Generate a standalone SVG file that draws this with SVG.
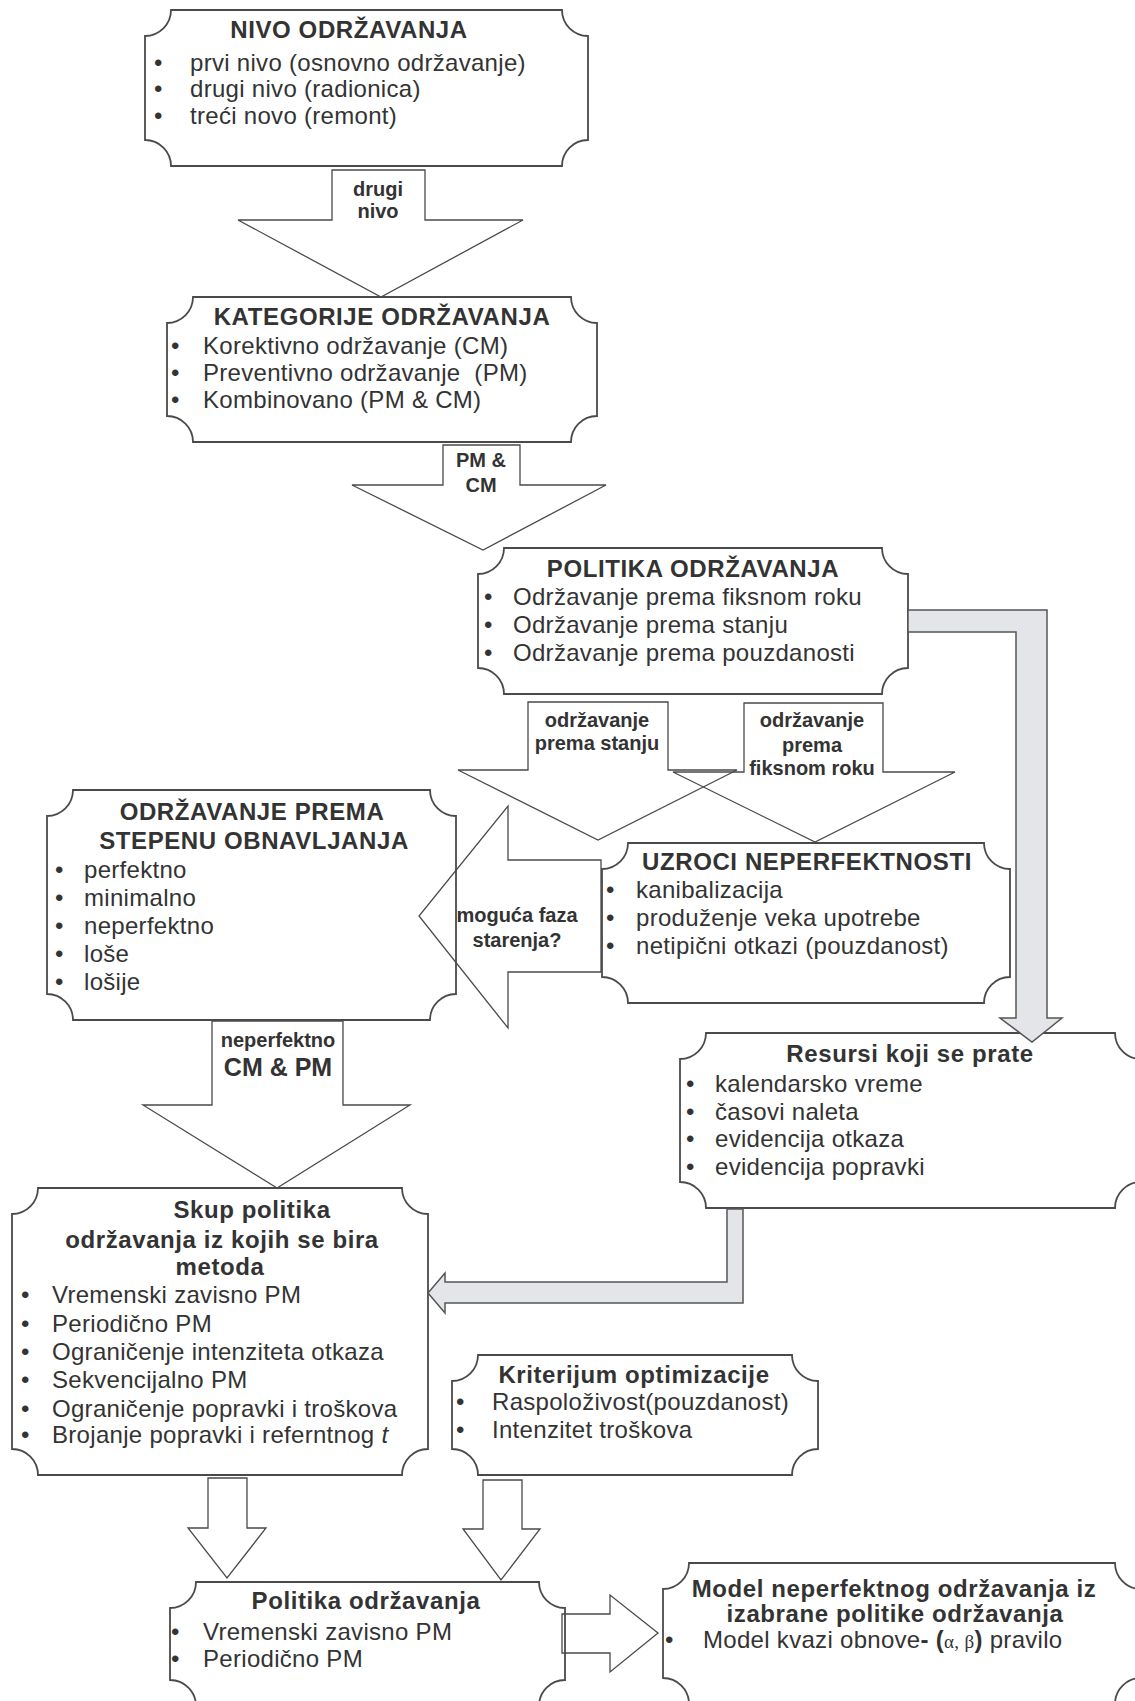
<svg xmlns="http://www.w3.org/2000/svg" width="1135" height="1701" viewBox="0 0 1135 1701">
<defs>
<style>
.box{fill:#fff;stroke:#4a4a4a;stroke-width:1.8}
.arr{fill:none;stroke:#4a4a4a;stroke-width:1.3;stroke-linejoin:miter}
.garr{fill:#e3e5e8;stroke:#555;stroke-width:1.5}
text{font-family:"Liberation Sans",Arial,sans-serif;fill:#333}
.t{font-size:24px;letter-spacing:0.3px}
.h{font-size:24px;font-weight:bold;letter-spacing:0.6px;text-anchor:middle}
.l{font-size:20px;font-weight:bold;text-anchor:middle}
.b{font-size:24px}
</style>
</defs>
<rect width="1135" height="1701" fill="#fff"/>

<g id="nivo">
<path class="box" d="M171,10 H562 A26,26 0 0 0 588,36 V140 A26,26 0 0 0 562,166 H171 A26,26 0 0 0 145,140 V36 A26,26 0 0 0 171,10 Z"/>
<text class="h" x="349" y="38">NIVO ODRŽAVANJA</text>
<text class="b" x="154" y="71">•</text><text class="t" x="190" y="71">prvi nivo (osnovno održavanje)</text>
<text class="b" x="154" y="97">•</text><text class="t" x="190" y="97">drugi nivo (radionica)</text>
<text class="b" x="154" y="124">•</text><text class="t" x="190" y="124">treći novo (remont)</text>
</g>

<g id="kategorije">
<path class="box" d="M193,297 H571 A26,26 0 0 0 597,323 V416 A26,26 0 0 0 571,442 H193 A26,26 0 0 0 167,416 V323 A26,26 0 0 0 193,297 Z"/>
<text class="h" x="382" y="325">KATEGORIJE ODRŽAVANJA</text>
<text class="b" x="171" y="354">•</text><text class="t" x="203" y="354">Korektivno održavanje (CM)</text>
<text class="b" x="171" y="381">•</text><text class="t" x="203" y="381">Preventivno održavanje&#160; (PM)</text>
<text class="b" x="171" y="408">•</text><text class="t" x="203" y="408">Kombinovano (PM &amp; CM)</text>
</g>

<g id="politika">
<path class="box" d="M504,548 H882 A26,26 0 0 0 908,574 V668 A26,26 0 0 0 882,694 H504 A26,26 0 0 0 478,668 V574 A26,26 0 0 0 504,548 Z"/>
<text class="h" x="693" y="577">POLITIKA ODRŽAVANJA</text>
<text class="b" x="484" y="605">•</text><text class="t" x="513" y="605">Održavanje prema fiksnom roku</text>
<text class="b" x="484" y="633">•</text><text class="t" x="513" y="633">Održavanje prema stanju</text>
<text class="b" x="484" y="661">•</text><text class="t" x="513" y="661">Održavanje prema pouzdanosti</text>
</g>

<g id="uzroci">
<path class="box" d="M628,843 H984 A26,26 0 0 0 1010,869 V977 A26,26 0 0 0 984,1003 H628 A26,26 0 0 0 602,977 V869 A26,26 0 0 0 628,843 Z"/>
<text class="h" x="807" y="870">UZROCI NEPERFEKTNOSTI</text>
<text class="b" x="606" y="898">•</text><text class="t" x="636" y="898">kanibalizacija</text>
<text class="b" x="606" y="926">•</text><text class="t" x="636" y="926">produženje veka upotrebe</text>
<text class="b" x="606" y="954">•</text><text class="t" x="636" y="954">netipični otkazi (pouzdanost)</text>
</g>

<g id="stepen">
<path class="box" d="M73,790 H430 A26,26 0 0 0 456,816 V994 A26,26 0 0 0 430,1020 H73 A26,26 0 0 0 47,994 V816 A26,26 0 0 0 73,790 Z"/>
<text class="h" x="252" y="820">ODRŽAVANJE PREMA</text>
<text class="h" x="254" y="849">STEPENU OBNAVLJANJA</text>
<text class="b" x="55" y="878">•</text><text class="t" x="84" y="878">perfektno</text>
<text class="b" x="55" y="906">•</text><text class="t" x="84" y="906">minimalno</text>
<text class="b" x="55" y="934">•</text><text class="t" x="84" y="934">neperfektno</text>
<text class="b" x="55" y="962">•</text><text class="t" x="84" y="962">loše</text>
<text class="b" x="55" y="990">•</text><text class="t" x="84" y="990">lošije</text>
</g>

<g id="resursi">
<path class="box" d="M706,1033 H1115 A26,26 0 0 0 1141,1059 V1182 A26,26 0 0 0 1115,1208 H706 A26,26 0 0 0 680,1182 V1059 A26,26 0 0 0 706,1033 Z"/>
<text class="h" x="910" y="1062">Resursi koji se prate</text>
<text class="b" x="686" y="1092">•</text><text class="t" x="715" y="1092">kalendarsko vreme</text>
<text class="b" x="686" y="1120">•</text><text class="t" x="715" y="1120">časovi naleta</text>
<text class="b" x="686" y="1147">•</text><text class="t" x="715" y="1147">evidencija otkaza</text>
<text class="b" x="686" y="1175">•</text><text class="t" x="715" y="1175">evidencija popravki</text>
</g>

<g id="skup">
<path class="box" d="M38,1188 H402 A26,26 0 0 0 428,1214 V1449 A26,26 0 0 0 402,1475 H38 A26,26 0 0 0 12,1449 V1214 A26,26 0 0 0 38,1188 Z"/>
<text class="h" x="252" y="1218">Skup politika</text>
<text class="h" x="222" y="1248">održavanja iz kojih se bira</text>
<text class="h" x="220" y="1275">metoda</text>
<text class="b" x="21" y="1303">•</text><text class="t" x="52" y="1303">Vremenski zavisno PM</text>
<text class="b" x="21" y="1332">•</text><text class="t" x="52" y="1332">Periodično PM</text>
<text class="b" x="21" y="1360">•</text><text class="t" x="52" y="1360">Ograničenje intenziteta otkaza</text>
<text class="b" x="21" y="1388">•</text><text class="t" x="52" y="1388">Sekvencijalno PM</text>
<text class="b" x="21" y="1417">•</text><text class="t" x="52" y="1417">Ograničenje popravki i troškova</text>
<text class="b" x="21" y="1443">•</text><text class="t" x="52" y="1443">Brojanje popravki i referntnog <tspan font-style="italic">t</tspan></text>
</g>

<g id="kriterijum">
<path class="box" d="M478,1355 H792 A26,26 0 0 0 818,1381 V1449 A26,26 0 0 0 792,1475 H478 A26,26 0 0 0 452,1449 V1381 A26,26 0 0 0 478,1355 Z"/>
<text class="h" x="634" y="1383">Kriterijum optimizacije</text>
<text class="b" x="456" y="1410">•</text><text class="t" x="492" y="1410">Raspoloživost(pouzdanost)</text>
<text class="b" x="456" y="1438">•</text><text class="t" x="492" y="1438">Intenzitet troškova</text>
</g>

<g id="politika2">
<path class="box" d="M196,1582 H539 A26,26 0 0 0 565,1608 V1680 A26,26 0 0 0 539,1706 H196 A26,26 0 0 0 170,1680 V1608 A26,26 0 0 0 196,1582 Z"/>
<text class="h" x="366" y="1609">Politika održavanja</text>
<text class="b" x="171" y="1640">•</text><text class="t" x="203" y="1640">Vremenski zavisno PM</text>
<text class="b" x="171" y="1667">•</text><text class="t" x="203" y="1667">Periodično PM</text>
</g>

<g id="model">
<path class="box" d="M689,1563 H1115 A26,26 0 0 0 1141,1589 V1678 A26,26 0 0 0 1115,1704 H689 A26,26 0 0 0 663,1678 V1589 A26,26 0 0 0 689,1563 Z"/>
<text class="h" x="894" y="1597">Model neperfektnog održavanja iz</text>
<text class="h" x="895" y="1622">izabrane politike održavanja</text>
<text class="b" x="665" y="1648">•</text><text class="t" x="703" y="1648">Model kvazi obnove<tspan font-weight="bold">- (</tspan><tspan font-family="Liberation Serif" font-size="19">α, β</tspan><tspan font-weight="bold">)</tspan> pravilo</text>
</g>

<g id="connectors">
<polygon class="arr" points="332,170 425,170 425,220 523,220 381,297 238,220 332,220"/>
<text class="l" x="378" y="196">drugi</text>
<text class="l" x="378" y="218">nivo</text>

<polygon class="arr" points="443,445 520,445 520,485 606,485 483,550 352,485 443,485"/>
<text class="l" x="481" y="467">PM &amp;</text>
<text class="l" x="481" y="492">CM</text>

<polygon class="arr" points="528,702 668,702 668,770 737,770 598,840 458,770 528,770"/>
<text class="l" x="597" y="727">održavanje</text>
<text class="l" x="597" y="750">prema stanju</text>

<polygon class="arr" points="744,703 883,703 883,772 955,772 815,842 673,772 744,772"/>
<text class="l" x="812" y="727">održavanje</text>
<text class="l" x="812" y="752">prema</text>
<text class="l" x="812" y="775">fiksnom roku</text>

<polygon class="arr" points="601,860 508,860 508,806 419,916 508,1028 508,972 601,972"/>
<text class="l" x="517" y="922">moguća faza</text>
<text class="l" x="517" y="947">starenja?</text>

<polygon class="arr" points="212,1021 343,1021 343,1105 410,1105 277,1188 143,1105 212,1105"/>
<text class="l" x="278" y="1047">neperfektno</text>
<text class="l" x="278" y="1076" style="font-size:25px">CM &amp; PM</text>

<polygon class="arr" points="208,1478 247,1478 247,1528 266,1528 227,1578 188,1528 208,1528"/>
<polygon class="arr" points="483,1480 522,1480 522,1529 540,1529 501,1580 463,1529 483,1529"/>
<polygon class="arr" points="562,1614 610,1614 610,1595 658,1633 610,1672 610,1653 562,1653"/>

<polygon class="garr" points="908,610 1047,610 1047,1018 1062,1018 1032,1042 1000,1018 1016,1018 1016,632 908,632"/>
<polygon class="garr" points="743,1209 743,1303 445,1303 445,1313 428,1293 445,1273 445,1282 727,1282 727,1209"/>
</g>
</svg>
